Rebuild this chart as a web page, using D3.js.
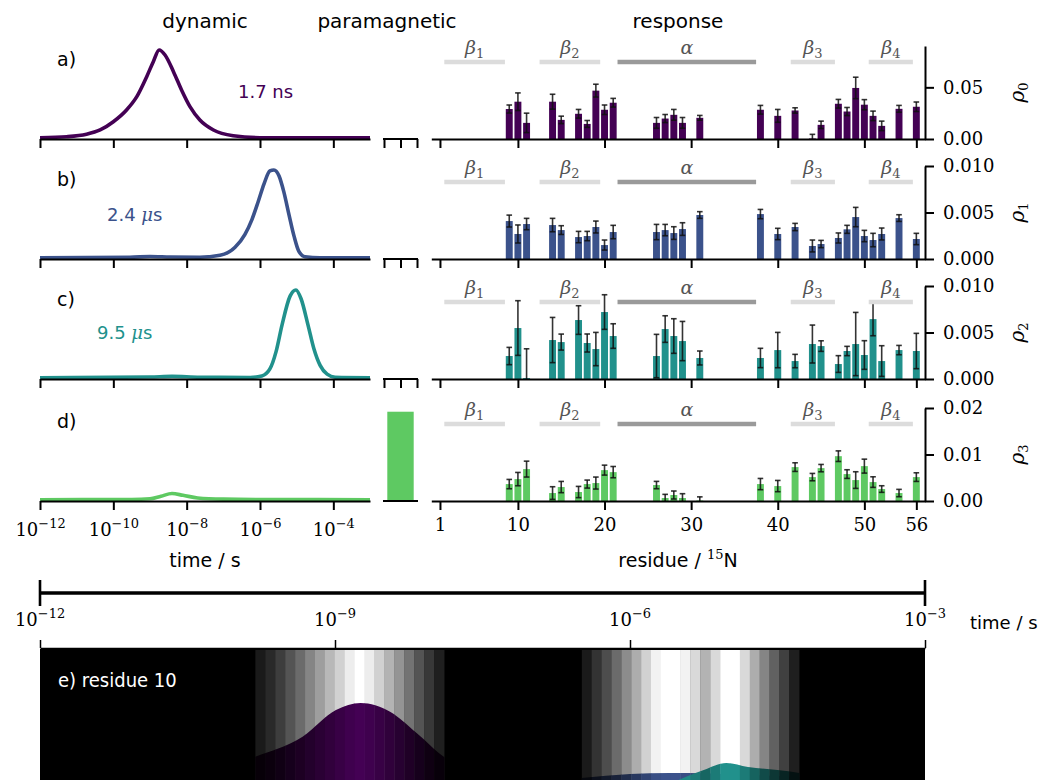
<!DOCTYPE html>
<html><head><meta charset="utf-8">
<script src="https://cdn.jsdelivr.net/npm/d3@7"></script>
<style>body{margin:0;background:#fff}svg{display:block}</style>
</head><body>
<svg id="fig" width="1053" height="780"></svg>
<script>
// ---------- data ----------
const residues = [9,10,11,14,15,17,18,19,20,21,26,27,28,29,31,38,40,42,44,45,47,48,49,50,51,52,54,56];

const rho0 = [0.0290,0.0361,0.0156,0.0361,0.0185,0.0244,0.0146,0.0468,0.0283,0.0351,0.0156,0.0198,0.0234,0.0156,0.0205,0.0283,0.0224,0.0276,0.0005,0.0137,0.0341,0.0266,0.0494,0.0332,0.0224,0.0127,0.0292,0.0312];
const rho0Err = [0.0039,0.0085,0.0094,0.0072,0.0036,0.0042,0.0033,0.0062,0.0046,0.0042,0.0052,0.0039,0.0052,0.0052,0.0023,0.0042,0.0062,0.0026,0.0040,0.0036,0.0042,0.0039,0.0104,0.0049,0.0046,0.0046,0.0033,0.0046];
const rho1 = [0.00408,0.00269,0.00376,0.00365,0.00311,0.00236,0.00247,0.00344,0.00150,0.00290,0.00290,0.00311,0.00279,0.00322,0.00473,0.00483,0.00269,0.00344,0.00140,0.00161,0.00226,0.00319,0.00451,0.00247,0.00204,0.00269,0.00440,0.00215];
const rho1Err = [0.00064,0.00097,0.00061,0.00072,0.00047,0.00061,0.00050,0.00064,0.00054,0.00072,0.00082,0.00061,0.00068,0.00068,0.00036,0.00050,0.00061,0.00039,0.00064,0.00039,0.00054,0.00043,0.00104,0.00061,0.00072,0.00064,0.00036,0.00061];
const rho2 = [0.00247,0.00548,0.00010,0.00419,0.00397,0.00634,0.00387,0.00322,0.00720,0.00462,0.00247,0.00537,0.00462,0.00408,0.00226,0.00226,0.00311,0.00193,0.00376,0.00354,0.00161,0.00301,0.00376,0.00258,0.00644,0.00193,0.00311,0.00301];
const rho2Err = [0.00093,0.00294,0.00315,0.00243,0.00086,0.00154,0.00097,0.00179,0.00186,0.00132,0.00233,0.00143,0.00186,0.00211,0.00075,0.00104,0.00190,0.00072,0.00204,0.00057,0.00090,0.00050,0.00340,0.00154,0.00179,0.00165,0.00050,0.00190];
const rho3 = [0.00364,0.00471,0.00686,0.00171,0.00300,0.00193,0.00364,0.00386,0.00664,0.00621,0.00343,0.00064,0.00129,0.00064,0.00010,0.00364,0.00321,0.00729,0.00514,0.00707,0.00964,0.00579,0.00450,0.00750,0.00407,0.00257,0.00171,0.00514];
const rho3Err = [0.00100,0.00143,0.00171,0.00136,0.00121,0.00121,0.00086,0.00129,0.00107,0.00121,0.00079,0.00079,0.00086,0.00093,0.00079,0.00121,0.00121,0.00093,0.00079,0.00079,0.00114,0.00093,0.00179,0.00150,0.00114,0.00071,0.00079,0.00093];

const rhoMax = [0.09, 0.010, 0.010, 0.02];
const rhoTicks = [[0, 0.05], [0, 0.005, 0.010], [0, 0.005, 0.010], [0, 0.01, 0.02]];
const rhoTickFmt = ['.2f', '.3f', '.3f', '.2f'];
const residueTicks = [1, 10, 20, 30, 40, 50, 56];

// secondary structure elements
const ssName = ['β', 'β', 'α', 'β', 'β'];
const ssSub = ['1', '2', '', '3', '4'];
const ssFrom = [1.5, 12.5, 21.5, 41.5, 50.5];
const ssTo = [8.5, 19.5, 37.5, 46.6, 55.6];
const ssHelix = [false, false, true, false, false];

// correlation-time distributions of the four detectors (log10 t / s, relative amplitude)
const distALogT = [-12,-11.27,-10.73,-10.36,-10.0,-9.64,-9.36,-9.09,-8.91,-8.75,-8.59,-8.36,-8.14,-7.91,-7.64,-7.27,-6.73,-6.0,-3];
const distAAmp  = [0,0.011,0.039,0.088,0.182,0.316,0.468,0.696,0.867,1.0,0.943,0.753,0.544,0.354,0.202,0.088,0.023,0,0];
const distBLogT = [-12,-9.55,-9.0,-8.45,-7.64,-7.09,-6.68,-6.41,-6.22,-6.05,-5.89,-5.73,-5.62,-5.48,-5.35,-5.21,-5.07,-4.94,-4.77,-4.36,-3];
const distBAmp  = [0,0.004,0.014,0.008,0.005,0.028,0.119,0.266,0.435,0.638,0.842,0.989,1.0,0.932,0.751,0.492,0.243,0.073,0.011,0,0];
const distCLogT = [-12,-9.0,-8.4,-7.64,-6.27,-5.95,-5.73,-5.56,-5.40,-5.18,-5.02,-4.88,-4.69,-4.53,-4.36,-4.17,-3.95,-3];
const distCAmp  = [0,0.008,0.015,0.005,0.003,0.02,0.10,0.30,0.60,0.93,1.0,0.90,0.60,0.33,0.14,0.04,0.005,0];
const distDLogT = [-12,-9.5,-9.0,-8.7,-8.4,-8.1,-7.7,-7.0,-6.0,-3];
const distDAmp  = [0,0.002,0.01,0.04,0.07,0.05,0.02,0.006,0.002,0];

const timeLabels = ['1.7 ns', '2.4 ', '9.5 ', ''];
const paraValue = 0.96;

// residue 10 panel: detector windows (brightness per slice) and motion amplitudes
const win1Range = [-9.81, -7.89];
const win1Bright = [0.10,0.16,0.24,0.33,0.42,0.52,0.62,0.72,0.82,0.93,1.0,0.93,0.82,0.70,0.58,0.45,0.33,0.22,0.12];
const win2Range = [-6.49, -4.28];
const win2Bright = [0.10,0.20,0.30,0.42,0.55,0.68,0.82,0.95,1.0,1.0,0.95,0.85,0.70,0.85,1.0,1.0,0.85,0.68,0.52,0.38,0.25,0.12];
const eALogT = [-10.2,-9.81,-9.33,-8.99,-8.74,-8.44,-8.17,-7.89,-7.5];
const eAAmp  = [0.30,0.433,0.633,0.90,0.97,0.883,0.67,0.43,0.28];
const eBLogT = [-6.8,-6.49,-6.0,-5.6,-5.2,-4.8,-4.28,-4.0];
const eBAmp  = [0.18,0.22,0.26,0.27,0.265,0.25,0.23,0.21];
const eCLogT = [-5.8,-5.46,-5.25,-5.02,-4.8,-4.5,-4.28,-4.0];
const eCAmp  = [0.05,0.22,0.30,0.37,0.33,0.30,0.27,0.20];

// ---------- drawing ----------
const SANS = '"DejaVu Sans", sans-serif';
const SERIF = '"DejaVu Serif", serif';
const colors = ['#440154', '#3b528b', '#21918c', '#5ec962'];
const rhoVals = [rho0, rho1, rho2, rho3];
const rhoErrs = [rho0Err, rho1Err, rho2Err, rho3Err];
const dists = [[distALogT, distAAmp], [distBLogT, distBAmp], [distCLogT, distCAmp], [distDLogT, distDAmp]];
const panelTags = ['a)', 'b)', 'c)', 'd)'];

const svg = d3.select('#fig');
const rowBase = [139, 259, 379, 501];
const rowH = 93;

const xTime = d3.scaleLog().domain([1e-12, 1e-3]).range([40, 370]);
const xRes = d3.scaleLinear().domain([0, 57]).range([431.3, 925]);
const xPara = d3.scaleLinear().domain([0, 2]).range([384, 417]);

function styleAxis(g) {
  g.selectAll('path.domain').attr('stroke', '#000').attr('stroke-width', 2);
  g.selectAll('.tick line').attr('stroke', '#000').attr('stroke-width', 2);
  g.selectAll('text').attr('font-family', SERIF).attr('font-size', 18).attr('fill', '#000');
}

function powLabel(sel, exp, size) {
  sel.append('tspan').text('10');
  sel.append('tspan').attr('dy', -8).attr('font-size', size * 0.72).text('−' + exp);
}

// column titles
[['dynamic', 205], ['paramagnetic', 387], ['response', 678]].forEach(([t, x]) => {
  svg.append('text').attr('x', x).attr('y', 28).attr('text-anchor', 'middle')
    .attr('font-family', SANS).attr('font-size', 20).text(t);
});

for (let r = 0; r < 4; r++) {
  const base = rowBase[r];
  const col = colors[r];

  // --- dynamics distribution ---
  const yDist = d3.scaleLinear().domain([0, 1]).range([base - 1.3, base - 89]);
  const pts = dists[r][0].map((t, i) => [t, dists[r][1][i]]);
  svg.append('path').datum(pts)
    .attr('fill', 'none').attr('stroke', col).attr('stroke-width', 3.6).attr('stroke-linejoin', 'round')
    .attr('d', d3.line().x(d => xTime(Math.pow(10, d[0]))).y(d => yDist(d[1])).curve(d3.curveMonotoneX));

  const gT = svg.append('g').attr('transform', `translate(0,${base})`)
    .call(d3.axisBottom(xTime).tickValues([1e-12, 1e-10, 1e-8, 1e-6, 1e-4]).tickSize(9).tickSizeOuter(0).tickFormat(''));
  styleAxis(gT);
  if (r === 3) {
    gT.selectAll('.tick').each(function(d) {
      const t = d3.select(this).append('text').attr('y', 35).attr('text-anchor', 'middle')
        .attr('font-family', SERIF).attr('font-size', 18).attr('fill', '#000');
      powLabel(t, String(-Math.round(Math.log10(d))), 18);
    });
  }

  svg.append('text').attr('x', 57).attr('y', base - 73)
    .attr('font-family', SANS).attr('font-size', 19).text(panelTags[r]);

  // --- paramagnetic column ---
  const yPara = d3.scaleLinear().domain([0, 1]).range([base, base - rowH]);
  if (r === 3) {
    svg.append('rect').attr('x', xPara(0.2)).attr('width', xPara(1.8) - xPara(0.2))
      .attr('y', yPara(paraValue)).attr('height', yPara(0) - yPara(paraValue)).attr('fill', col);
    svg.append('line').attr('x1', 383).attr('x2', 418).attr('y1', base).attr('y2', base)
      .attr('stroke', '#000').attr('stroke-width', 2);
  } else {
    const gP = svg.append('g').attr('transform', `translate(0,${base})`)
      .call(d3.axisBottom(xPara).tickValues([0, 1, 2]).tickSize(9).tickSizeOuter(0).tickFormat(''));
    styleAxis(gP);
    gP.select('path.domain').attr('d', 'M383,0H418');
  }

  // --- response bars ---
  const y = d3.scaleLinear().domain([0, rhoMax[r]]).range([base, base - rowH]);
  const bw = xRes(0.8) - xRes(0);
  const gB = svg.append('g');
  residues.forEach((res, i) => {
    const v = rhoVals[r][i], e = rhoErrs[r][i];
    gB.append('rect').attr('x', xRes(res) - bw / 2).attr('width', bw)
      .attr('y', y(v)).attr('height', y(0) - y(v)).attr('fill', col);
    const lo = Math.max(0, v - e), hi = Math.min(rhoMax[r], v + e);
    gB.append('line').attr('x1', xRes(res)).attr('x2', xRes(res)).attr('y1', y(lo)).attr('y2', y(hi))
      .attr('stroke', '#111').attr('stroke-opacity', 0.85).attr('stroke-width', 1.6);
    gB.append('line').attr('x1', xRes(res) - 2.8).attr('x2', xRes(res) + 2.8).attr('y1', y(v + e)).attr('y2', y(v + e))
      .attr('stroke', '#111').attr('stroke-opacity', 0.85).attr('stroke-width', 1.6);
    if (v - e > 0) {
      gB.append('line').attr('x1', xRes(res) - 2.8).attr('x2', xRes(res) + 2.8).attr('y1', y(v - e)).attr('y2', y(v - e))
        .attr('stroke', '#111').attr('stroke-opacity', 0.85).attr('stroke-width', 1.6);
    }
  });

  // secondary structure
  ssName.forEach((nm, i) => {
    svg.append('line').attr('x1', xRes(ssFrom[i])).attr('x2', xRes(ssTo[i]))
      .attr('y1', base - 77).attr('y2', base - 77)
      .attr('stroke', ssHelix[i] ? '#9a9a9a' : '#dcdcdc').attr('stroke-width', 4.5);
    const t = svg.append('text').attr('x', (xRes(ssFrom[i]) + xRes(ssTo[i])) / 2).attr('y', base - 85)
      .attr('text-anchor', 'middle').attr('font-family', SERIF).attr('font-style', 'italic')
      .attr('font-size', 19).attr('fill', '#555');
    t.append('tspan').text(nm);
    if (ssSub[i]) t.append('tspan').attr('dy', 4).attr('font-size', 13).attr('font-style', 'normal').text(ssSub[i]);
  });

  const gX = svg.append('g').attr('transform', `translate(0,${base})`)
    .call(d3.axisBottom(xRes).tickValues(residueTicks).tickSize(9).tickSizeOuter(0)
      .tickFormat(r === 3 ? d3.format('d') : ''));
  styleAxis(gX);
  gX.selectAll('text').attr('y', 17);

  const gY = svg.append('g').attr('transform', 'translate(925,0)')
    .call(d3.axisRight(y).tickValues(rhoTicks[r]).tickSize(9).tickSizeOuter(0).tickFormat(d3.format(rhoTickFmt[r])));
  styleAxis(gY);
  gY.selectAll('text').attr('x', 18);

  const yl = svg.append('text').attr('transform', `translate(1024,${base - rowH / 2}) rotate(-90)`)
    .attr('text-anchor', 'middle').attr('font-family', SERIF).attr('font-size', 20);
  yl.append('tspan').attr('font-style', 'italic').text('ρ');
  yl.append('tspan').attr('dy', 4).attr('font-size', 13).text(String(r));
}

// time-constant annotations
{
  const t0 = svg.append('text').attr('x', 238).attr('y', 98).attr('font-family', SANS).attr('font-size', 18).attr('fill', colors[0]);
  t0.text(timeLabels[0]);
  [[1, 107, 221], [2, 97, 339]].forEach(([k, x, yy]) => {
    const t = svg.append('text').attr('x', x).attr('y', yy).attr('font-family', SANS).attr('font-size', 18).attr('fill', colors[k]);
    t.append('tspan').text(timeLabels[k]);
    t.append('tspan').attr('font-family', SERIF).attr('font-style', 'italic').text('μ');
    t.append('tspan').text('s');
  });
}

// axis titles
svg.append('text').attr('x', 205).attr('y', 567).attr('text-anchor', 'middle')
  .attr('font-family', SANS).attr('font-size', 19).text('time / s');
{
  const t = svg.append('text').attr('x', 678).attr('y', 567).attr('text-anchor', 'middle')
    .attr('font-family', SANS).attr('font-size', 19);
  t.append('tspan').text('residue / ');
  t.append('tspan').attr('dy', -8).attr('font-family', SERIF).attr('font-size', 13).text('15');
  t.append('tspan').attr('dy', 8).text('N');
}

// ---------- panel e: residue 10 ----------
const xE = d3.scaleLog().domain([1e-12, 1e-3]).range([40, 925]);
const yE = d3.scaleLinear().domain([0, 1]).range([800, 700]);

// timeline
svg.append('line').attr('x1', xE(1e-12)).attr('x2', xE(1e-3)).attr('y1', 593).attr('y2', 593)
  .attr('stroke', '#000').attr('stroke-width', 3.4);
[1e-12, 1e-3].forEach(v => svg.append('line').attr('x1', xE(v)).attr('x2', xE(v)).attr('y1', 580).attr('y2', 606)
  .attr('stroke', '#000').attr('stroke-width', 2.6));
[1e-12, 1e-9, 1e-6, 1e-3].forEach(v => {
  const t = svg.append('text').attr('x', xE(v)).attr('y', 626).attr('text-anchor', 'middle')
    .attr('font-family', SERIF).attr('font-size', 18);
  powLabel(t, String(-Math.round(Math.log10(v))), 18);
});
svg.append('text').attr('x', 970).attr('y', 629).attr('font-family', SANS).attr('font-size', 18).text('time / s');

const gE = svg.append('g').attr('transform', 'translate(0,648)')
  .call(d3.axisTop(xE).tickValues([1e-12, 1e-9, 1e-6, 1e-3]).tickSize(8).tickSizeOuter(0).tickFormat(''));
gE.selectAll('path.domain').attr('stroke', '#000').attr('stroke-width', 1.5);
gE.selectAll('.tick line').attr('stroke', '#000').attr('stroke-width', 1.5);

svg.append('rect').attr('x', 40).attr('y', 649).attr('width', 885).attr('height', 140).attr('fill', '#000');

function slices(range, bright) {
  const w = (range[1] - range[0]) / bright.length;
  return bright.map((b, i) => ({ x0: xE(Math.pow(10, range[0] + i * w)), x1: xE(Math.pow(10, range[0] + (i + 1) * w)), b }));
}
const allSlices = slices(win1Range, win1Bright).concat(slices(win2Range, win2Bright));

svg.append('g').selectAll('rect').data(allSlices).join('rect')
  .attr('x', d => d.x0).attr('width', d => d.x1 - d.x0 + 0.3).attr('y', 650).attr('height', 135)
  .attr('fill', d => d3.rgb(255 * d.b, 255 * d.b, 255 * d.b));

const defs = svg.append('defs');
const eArea = d3.area().x(d => xE(Math.pow(10, d[0]))).y0(yE(0)).y1(d => yE(d[1])).curve(d3.curveMonotoneX);
[[eBLogT, eBAmp, colors[1], 'clipB'], [eALogT, eAAmp, colors[0], 'clipA'], [eCLogT, eCAmp, colors[2], 'clipC']]
  .forEach(([lt, amp, col, id]) => {
    defs.append('clipPath').attr('id', id).append('path').attr('d', eArea(lt.map((t, i) => [t, amp[i]])));
    const c = d3.rgb(col);
    svg.append('g').attr('clip-path', `url(#${id})`).selectAll('rect').data(allSlices).join('rect')
      .attr('x', d => d.x0).attr('width', d => d.x1 - d.x0 + 0.3).attr('y', 650).attr('height', 135)
      .attr('fill', d => d3.rgb(c.r * d.b, c.g * d.b, c.b * d.b));
  });

svg.append('text').attr('x', 58).attr('y', 687).attr('fill', '#fff')
  .attr('font-family', '"DejaVu Sans Condensed", "DejaVu Sans", sans-serif').attr('font-stretch', 'condensed')
  .attr('font-size', 20).text('e) residue 10');
</script>
</body></html>
